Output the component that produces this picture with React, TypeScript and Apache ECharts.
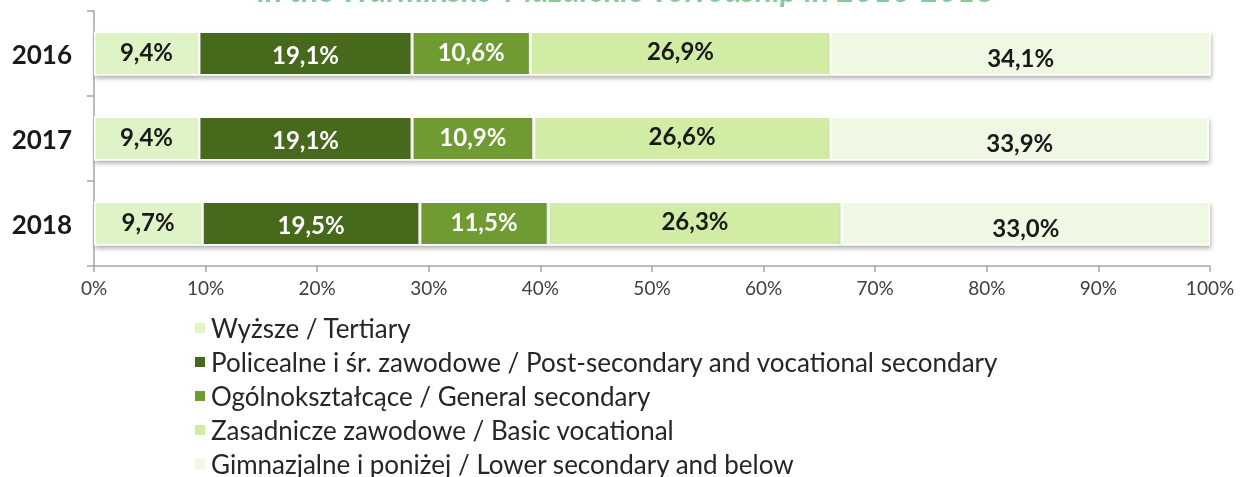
import React, { useEffect, useRef } from "react";
import * as echarts from "echarts";

const years = ["2016", "2017", "2018"];
const seriesNames = [
  "Wyższe / Tertiary",
  "Policealne i śr. zawodowe / Post-secondary and vocational secondary",
  "Ogólnokształcące / General secondary",
  "Zasadnicze zawodowe / Basic vocational",
  "Gimnazjalne i poniżej / Lower secondary and below",
];
const tertiary = [9.4, 9.4, 9.7];
const postSecondary = [19.1, 19.1, 19.5];
const generalSecondary = [10.6, 10.9, 11.5];
const basicVocational = [26.9, 26.6, 26.3];
const lowerSecondary = [34.1, 33.9, 33.0];
const xTicks = [0, 10, 20, 30, 40, 50, 60, 70, 80, 90, 100];

const seriesValues = [tertiary, postSecondary, generalSecondary, basicVocational, lowerSecondary];
const colors = ["#dff4c6", "#46691e", "#6f9b31", "#d0eca5", "#eef8e2"];
const labelColors = ["#1a1a1a", "#ffffff", "#ffffff", "#1a1a1a", "#1a1a1a"];
const labelOffsets = [[0, -2], [0, 1], [0, -2], [0, -3], [0, 4]];

const H = 510;

export default function App() {
  const ref = useRef<HTMLDivElement>(null);
  useEffect(() => {
    if (!ref.current) return;
    const chart = echarts.init(ref.current, null, { renderer: "svg" });
    chart.setOption({
      animation: false,
      graphic: [
        {
          type: "text",
          x: 626,
          y: -11,
          style: {
            text: "in the Warmińsko-Mazurskie Voivodship in 2016-2018",
            font: "italic bold 32px Lato",
            fill: "#8cc79c",
            align: "center",
            verticalAlign: "middle",
          },
        },
      ],
      grid: { left: 94, right: 30, top: 11, bottom: H - 266, containLabel: false },
      xAxis: {
        type: "value",
        min: 0,
        max: 100,
        interval: 10,
        axisLine: { show: true, lineStyle: { color: "#a6a6a6", width: 1.5 } },
        axisTick: { show: true, length: 6, lineStyle: { color: "#a6a6a6", width: 1.5 } },
        splitLine: { show: false },
        axisLabel: {
          formatter: (v: number) => (xTicks.includes(v) ? v + "%" : ""),
          fontFamily: "Lato",
          fontSize: 19,
          color: "#404040",
          margin: 12,
        },
      },
      yAxis: {
        type: "category",
        data: years,
        inverse: true,
        axisLine: { show: true, lineStyle: { color: "#a6a6a6", width: 1.5 } },
        axisTick: { show: true, length: 7, lineStyle: { color: "#a6a6a6", width: 1.5 } },
        axisLabel: {
          fontFamily: "Lato",
          fontSize: 26,
          fontWeight: "bold",
          color: "#1a1a1a",
          margin: 22,
        },
      },
      legend: {
        orient: "vertical",
        left: 188,
        top: 310,
        itemWidth: 12,
        itemHeight: 12,
        itemGap: 8,
        icon: "rect",
        textStyle: { fontFamily: "Lato", fontSize: 26, color: "#262626", lineHeight: 25 },
        data: seriesNames,
      },
      series: seriesNames.map((name, i) => ({
        name,
        type: "bar",
        stack: "total",
        barWidth: 44,
        data: seriesValues[i],
        itemStyle: {
          color: colors[i],
          borderColor: "#ffffff",
          borderWidth: 1.5,
          shadowColor: "rgba(0,0,0,0.3)",
          shadowBlur: 4,
          shadowOffsetY: 3,
          shadowOffsetX: 1,
        },
        label: {
          show: true,
          position: "inside",
          offset: labelOffsets[i],
          formatter: (p: any) => p.value.toFixed(1).replace(".", ",") + "%",
          fontFamily: "Lato",
          fontSize: 24,
          fontWeight: "bold",
          color: labelColors[i],
        },
      })),
    });
    return () => chart.dispose();
  }, []);
  return (
    <div
      ref={ref}
      style={{ position: "fixed", left: 0, top: 0, width: 1240, height: H }}
    />
  );
}
